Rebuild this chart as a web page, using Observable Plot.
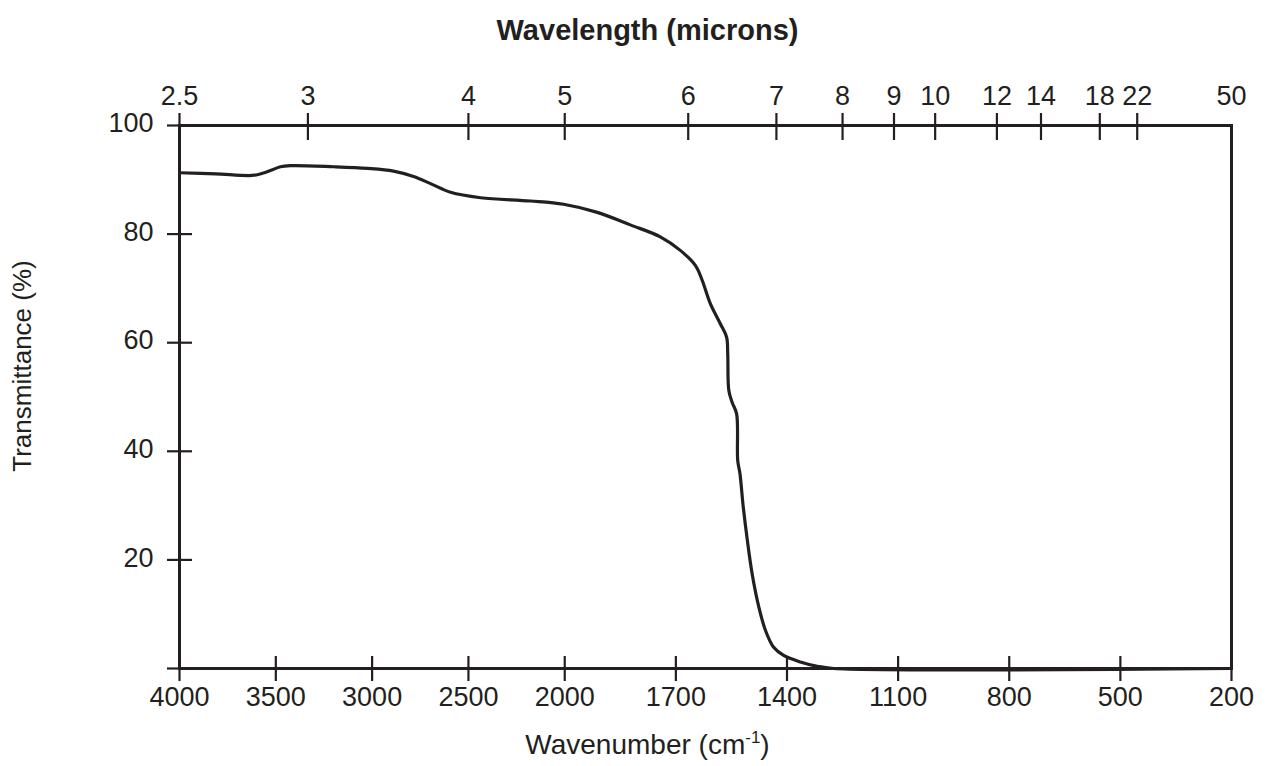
<!DOCTYPE html>
<html>
<head>
<meta charset="utf-8">
<script src="https://cdn.jsdelivr.net/npm/d3@7"></script>
<script src="https://cdn.jsdelivr.net/npm/@observablehq/plot@0.6"></script>
<style>
  html, body { margin: 0; padding: 0; background: #fff; }
  #chart { width: 1267px; height: 766px; }
</style>
</head>
<body>
<div id="chart"></div>
<script>
// ---- data ----
const wavenumberTicks = [4000, 3500, 3000, 2500, 2000, 1700, 1400, 1100, 800, 500, 200];
const micronTicks = [2.5, 3, 4, 5, 6, 7, 8, 9, 10, 12, 14, 18, 22, 50];
const transmittanceTicks = [0, 20, 40, 60, 80, 100];

const spectrumWavenumber = [4000, 3813, 3622, 3569, 3528, 3476, 3424, 3200, 3024, 2889, 2785, 2697, 2593, 2437, 2178, 2006, 1912, 1823, 1742, 1688, 1647, 1629, 1607, 1580, 1563, 1560, 1557, 1548, 1536, 1533, 1527, 1518, 1507, 1494, 1476, 1458, 1436, 1409, 1364, 1318, 1274, 200];
const spectrumTransmittance = [91.3, 91.1, 90.8, 91.2, 91.7, 92.4, 92.6, 92.4, 92.1, 91.6, 90.6, 89.3, 87.7, 86.7, 86.1, 85.5, 84.0, 81.7, 79.5, 77.0, 74.2, 71.5, 67.2, 63.5, 61.0, 58.0, 51.2, 49.0, 46.9, 38.3, 35.9, 29.7, 23.6, 17.4, 11.3, 7.0, 3.9, 2.4, 1.2, 0.4, 0, 0];

// The chart uses the classic IR layout: the 4000–2000 cm-1 region is compressed.
const scaleBreak = 2000;
const highRangeRatio = 0.52;
const u = w => (w > scaleBreak ? scaleBreak + (w - scaleBreak) * highRangeRatio : w);

const ink = "#231f20";
const rows = spectrumWavenumber.map((w, i) => ({u: u(w), t: spectrumTransmittance[i]}));

const bottomU = wavenumberTicks.map(u);
const bottomLabel = new Map(wavenumberTicks.map(w => [u(w), String(w)]));
const topU = micronTicks.map(m => u(1e4 / m));
const topLabel = new Map(micronTicks.map(m => [u(1e4 / m), String(m)]));
const topTickU = micronTicks.filter(m => m !== 50).map(m => u(1e4 / m));
const yLabeled = transmittanceTicks.filter(d => d > 0);

const plot = Plot.plot({
  width: 1267,
  height: 766,
  marginLeft: 179,
  marginRight: 36,
  marginTop: 125,
  marginBottom: 98,
  style: {
    fontFamily: '"Liberation Sans", Arial, Helvetica, sans-serif',
    fontSize: "27px",
    color: ink,
    background: "white"
  },
  x: {domain: [u(4000), u(200)]},
  y: {domain: [0, 100]},
  marks: [
    Plot.line(rows, {x: "u", y: "t", curve: "catmull-rom", stroke: ink, strokeWidth: 3.2}),
    Plot.frame({stroke: ink, strokeWidth: 3}),
    // bottom axis (wavenumber)
    Plot.axisX(bottomU, {anchor: "bottom", tickSize: 13, strokeWidth: 2.2, fill: "none", label: null}),
    Plot.axisX(bottomU, {anchor: "bottom", tickSize: -12, strokeWidth: 2.2, fill: "none", label: null}),
    Plot.axisX(bottomU, {anchor: "bottom", tickSize: 0, tickPadding: 18, tickFormat: d => bottomLabel.get(d), label: null}),
    // top axis (wavelength)
    Plot.axisX(topTickU, {anchor: "top", tickSize: 13, strokeWidth: 2.2, fill: "none", label: null}),
    Plot.axisX(topTickU, {anchor: "top", tickSize: -14, strokeWidth: 2.2, fill: "none", label: null}),
    Plot.axisX(topU, {anchor: "top", tickSize: 0, tickPadding: 21, tickFormat: d => topLabel.get(d), label: null}),
    // left axis (transmittance)
    Plot.axisY(transmittanceTicks, {anchor: "left", tickSize: 12, strokeWidth: 2.2, fill: "none", label: null}),
    Plot.axisY(transmittanceTicks, {anchor: "left", tickSize: -13, strokeWidth: 2.2, fill: "none", label: null}),
    Plot.axisY(yLabeled, {anchor: "left", tickSize: 0, tickPadding: 26, dy: -2, label: null}),
    // titles
    Plot.text(["Wavelength (microns)"], {frameAnchor: "top", dy: -95, dx: -58, lineAnchor: "middle", textAnchor: "middle", fontWeight: "bold", fontSize: 29, fill: ink}),
    Plot.text(["Wavenumber (cm-1)"], {frameAnchor: "bottom", dy: 77, dx: -58, lineAnchor: "middle", textAnchor: "middle", fontSize: 28, fill: ink}),
    Plot.text(["Transmittance (%)"], {frameAnchor: "left", rotate: -90, dx: -157, dy: -31, lineAnchor: "middle", textAnchor: "middle", fontSize: 26, fill: ink})
  ]
});

// superscript for cm-1
for (const t of plot.querySelectorAll("text")) {
  if (t.textContent === "Wavenumber (cm-1)") {
    t.textContent = "";
    const ns = "http://www.w3.org/2000/svg";
    const a = document.createElementNS(ns, "tspan");
    a.textContent = "Wavenumber (cm";
    const b = document.createElementNS(ns, "tspan");
    b.textContent = "-1";
    b.setAttribute("dy", "-11");
    b.setAttribute("font-size", "17");
    const c = document.createElementNS(ns, "tspan");
    c.textContent = ")";
    c.setAttribute("dy", "11");
    t.append(a, b, c);
  }
}

document.getElementById("chart").append(plot);
</script>
</body>
</html>
